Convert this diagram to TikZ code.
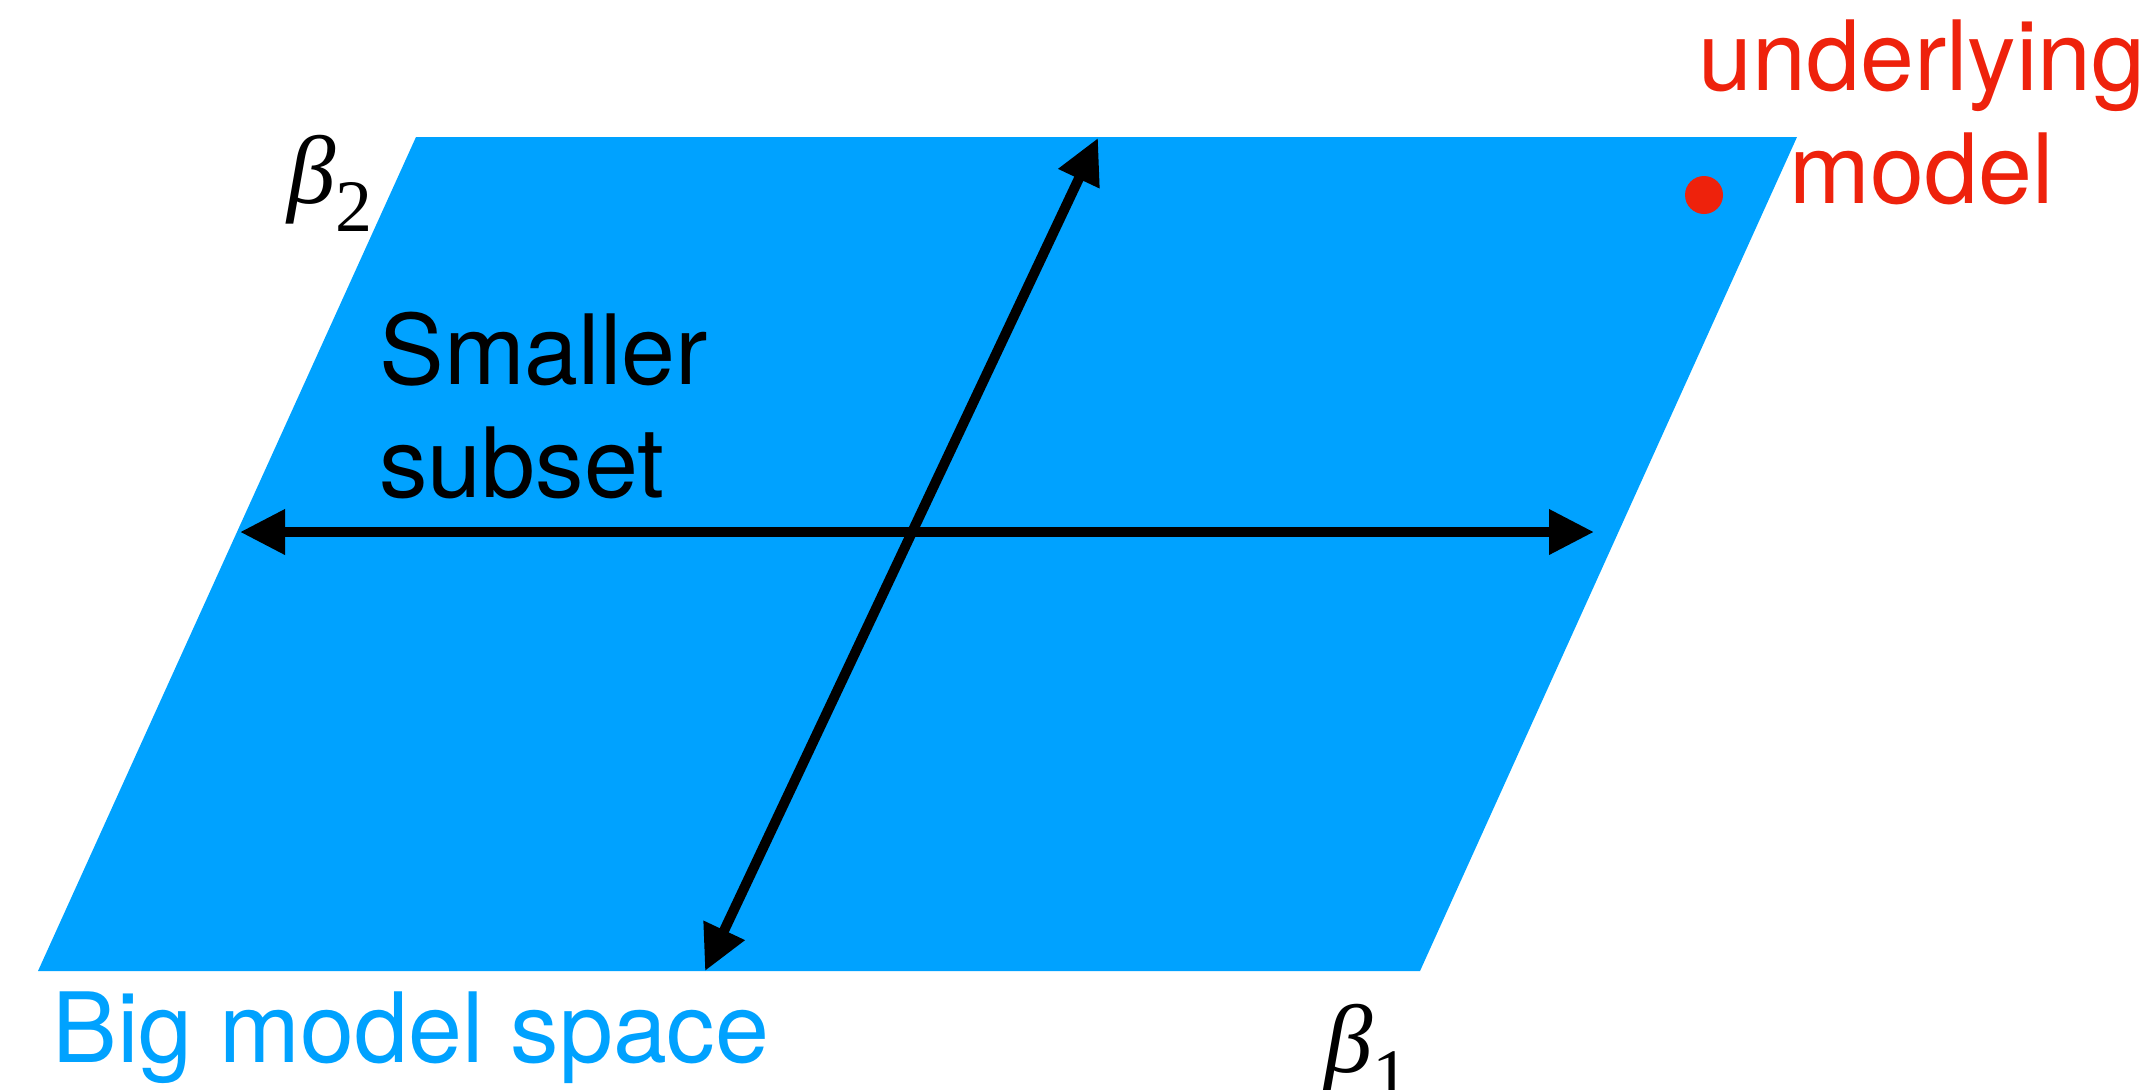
\documentclass[tikz,border=0pt]{standalone}
\usepackage{fontspec}
\setmainfont{TeX Gyre Heros}
\newfontfamily\tms{Liberation Serif}
\usetikzlibrary{arrows.meta}
\definecolor{planeblue}{RGB}{0,162,255}
\definecolor{truered}{RGB}{238,34,12}
\begin{document}
\begin{tikzpicture}[x=0.5pt,y=-0.5pt,
  bigtext/.style={font=\fontsize{48.5}{56.5}\selectfont, inner sep=0pt},
  axislabel/.style={font=\tms\fontsize{48.5}{56.5}\selectfont\itshape, inner sep=0pt},
  axisarrow/.style={line width=5pt, {Triangle[length=22.5pt,width=21.5pt]}-{Triangle[length=22.5pt,width=21.5pt]}}]
\useasboundingbox (0,0) rectangle (2151,1089);
% plane
\fill[planeblue] (416,137) -- (1797,137) -- (1420,971) -- (38,971) -- cycle;
% arrows
\coordinate (hl) at (240,532);
\coordinate (hr) at (1594,532);
\coordinate (dl) at (705,971);
\coordinate (du) at (1098,138);
\draw[axisarrow] (hl) -- (hr);
\draw[axisarrow] (dl) -- (du);
% labels (base anchor = baseline of last line)
\node[bigtext, anchor=base west, align=left] (sub) at (379,497) {Smaller\\subset};
\node[bigtext, anchor=base, align=center, text=truered] (um) at (1922,203) {underlying\\model};
\node[bigtext, anchor=base west, text=planeblue] (big) at (52,1062) {Big model space};
\fill[truered] (1704,195) circle[radius=19] node (dot) {};
\node[axislabel, anchor=base west] (b2) at (287,203) {β\raisebox{-14pt}{\upshape\fontsize{37}{37}\selectfont 2}};
\node[axislabel, anchor=base west] (b1) at (1324,1072) {β\raisebox{-14pt}{\upshape\fontsize{37}{37}\selectfont 1}};
\end{tikzpicture}
\end{document}
